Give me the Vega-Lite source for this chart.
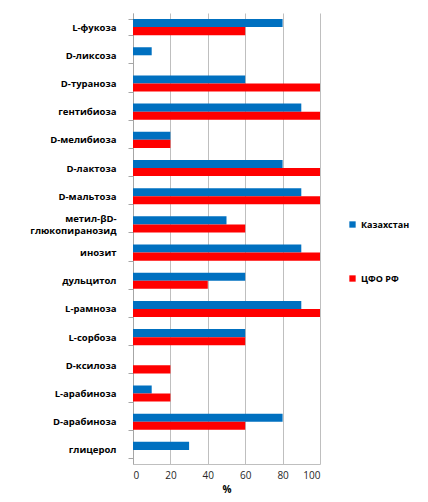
{
  "$schema": "https://vega.github.io/schema/vega-lite/v6.json",
  "width": 187,
  "height": 451,
  "autosize": "none",
  "padding": {"left": 133, "top": 13, "right": 108, "bottom": 38},
  "background": "white",
  "config": {"view": {"stroke": null}, "font": "Open Sans"},
  "data": {
    "values": [
      {"sugar": "L-фукоза", "region": "Казахстан", "value": 80},
      {"sugar": "L-фукоза", "region": "ЦФО РФ", "value": 60},
      {"sugar": "D-ликсоза", "region": "Казахстан", "value": 10},
      {"sugar": "D-ликсоза", "region": "ЦФО РФ", "value": 0},
      {"sugar": "D-тураноза", "region": "Казахстан", "value": 60},
      {"sugar": "D-тураноза", "region": "ЦФО РФ", "value": 100},
      {"sugar": "гентибиоза", "region": "Казахстан", "value": 90},
      {"sugar": "гентибиоза", "region": "ЦФО РФ", "value": 100},
      {"sugar": "D-мелибиоза", "region": "Казахстан", "value": 20},
      {"sugar": "D-мелибиоза", "region": "ЦФО РФ", "value": 20},
      {"sugar": "D-лактоза", "region": "Казахстан", "value": 80},
      {"sugar": "D-лактоза", "region": "ЦФО РФ", "value": 100},
      {"sugar": "D-мальтоза", "region": "Казахстан", "value": 90},
      {"sugar": "D-мальтоза", "region": "ЦФО РФ", "value": 100},
      {"sugar": "метил-βD-глюкопиранозид", "region": "Казахстан", "value": 50},
      {"sugar": "метил-βD-глюкопиранозид", "region": "ЦФО РФ", "value": 60},
      {"sugar": "инозит", "region": "Казахстан", "value": 90},
      {"sugar": "инозит", "region": "ЦФО РФ", "value": 100},
      {"sugar": "дульцитол", "region": "Казахстан", "value": 60},
      {"sugar": "дульцитол", "region": "ЦФО РФ", "value": 40},
      {"sugar": "L-рамноза", "region": "Казахстан", "value": 90},
      {"sugar": "L-рамноза", "region": "ЦФО РФ", "value": 100},
      {"sugar": "L-сорбоза", "region": "Казахстан", "value": 60},
      {"sugar": "L-сорбоза", "region": "ЦФО РФ", "value": 60},
      {"sugar": "D-ксилоза", "region": "Казахстан", "value": 0},
      {"sugar": "D-ксилоза", "region": "ЦФО РФ", "value": 20},
      {"sugar": "L-арабиноза", "region": "Казахстан", "value": 10},
      {"sugar": "L-арабиноза", "region": "ЦФО РФ", "value": 20},
      {"sugar": "D-арабиноза", "region": "Казахстан", "value": 80},
      {"sugar": "D-арабиноза", "region": "ЦФО РФ", "value": 60},
      {"sugar": "глицерол", "region": "Казахстан", "value": 30},
      {"sugar": "глицерол", "region": "ЦФО РФ", "value": 0}
    ]
  },
  "mark": {"type": "bar"},
  "encoding": {
    "y": {
      "field": "sugar",
      "type": "nominal",
      "sort": null,
      "scale": {"paddingInner": 0.43, "paddingOuter": 0.215},
      "axis": {
        "title": null,
        "labelFont": "Open Sans",
        "labelFontWeight": "bold",
        "labelFontSize": 9.5,
        "labelColor": "#000000",
        "labelPadding": 12,
        "labelLineHeight": 12,
        "labelExpr": "datum.label == 'метил-βD-глюкопиранозид' ? ['метил-βD-', 'глюкопиранозид'] : datum.label",
        "labelOffset": {"expr": "datum.value == 'метил-βD-глюкопиранозид' ? -6 : 0"},
        "tickBand": "extent",
        "tickSize": 5,
        "tickColor": "#A6A6A6",
        "domainColor": "#A6A6A6",
        "grid": false
      }
    },
    "yOffset": {"field": "region", "type": "nominal", "sort": ["Казахстан", "ЦФО РФ"]},
    "x": {
      "field": "value",
      "type": "quantitative",
      "scale": {"domain": [0, 100]},
      "axis": {
        "title": "%",
        "titleFont": "Open Sans",
        "titleFontWeight": "bold",
        "titleFontSize": 10,
        "titleColor": "#000000",
        "titlePadding": 4,
        "values": [0, 20, 40, 60, 80, 100],
        "labelFont": "Open Sans",
        "labelFontSize": 10,
        "labelColor": "#262626",
        "ticks": false,
        "labelPadding": 6,
        "grid": true,
        "gridColor": "#BFBFBF",
        "domainColor": "#BFBFBF"
      }
    },
    "color": {
      "field": "region",
      "type": "nominal",
      "sort": ["Казахстан", "ЦФО РФ"],
      "scale": {"domain": ["Казахстан", "ЦФО РФ"], "range": ["#0070C0", "#FF0000"]},
      "legend": {
        "title": null,
        "orient": "none",
        "legendX": 215,
        "legendY": 207,
        "symbolType": "square",
        "symbolSize": 40,
        "symbolStrokeWidth": 0,
        "labelFont": "Open Sans",
        "labelFontWeight": "bold",
        "labelFontSize": 9,
        "labelColor": "#000000",
        "rowPadding": 44,
        "labelOffset": 4
      }
    }
  }
}
